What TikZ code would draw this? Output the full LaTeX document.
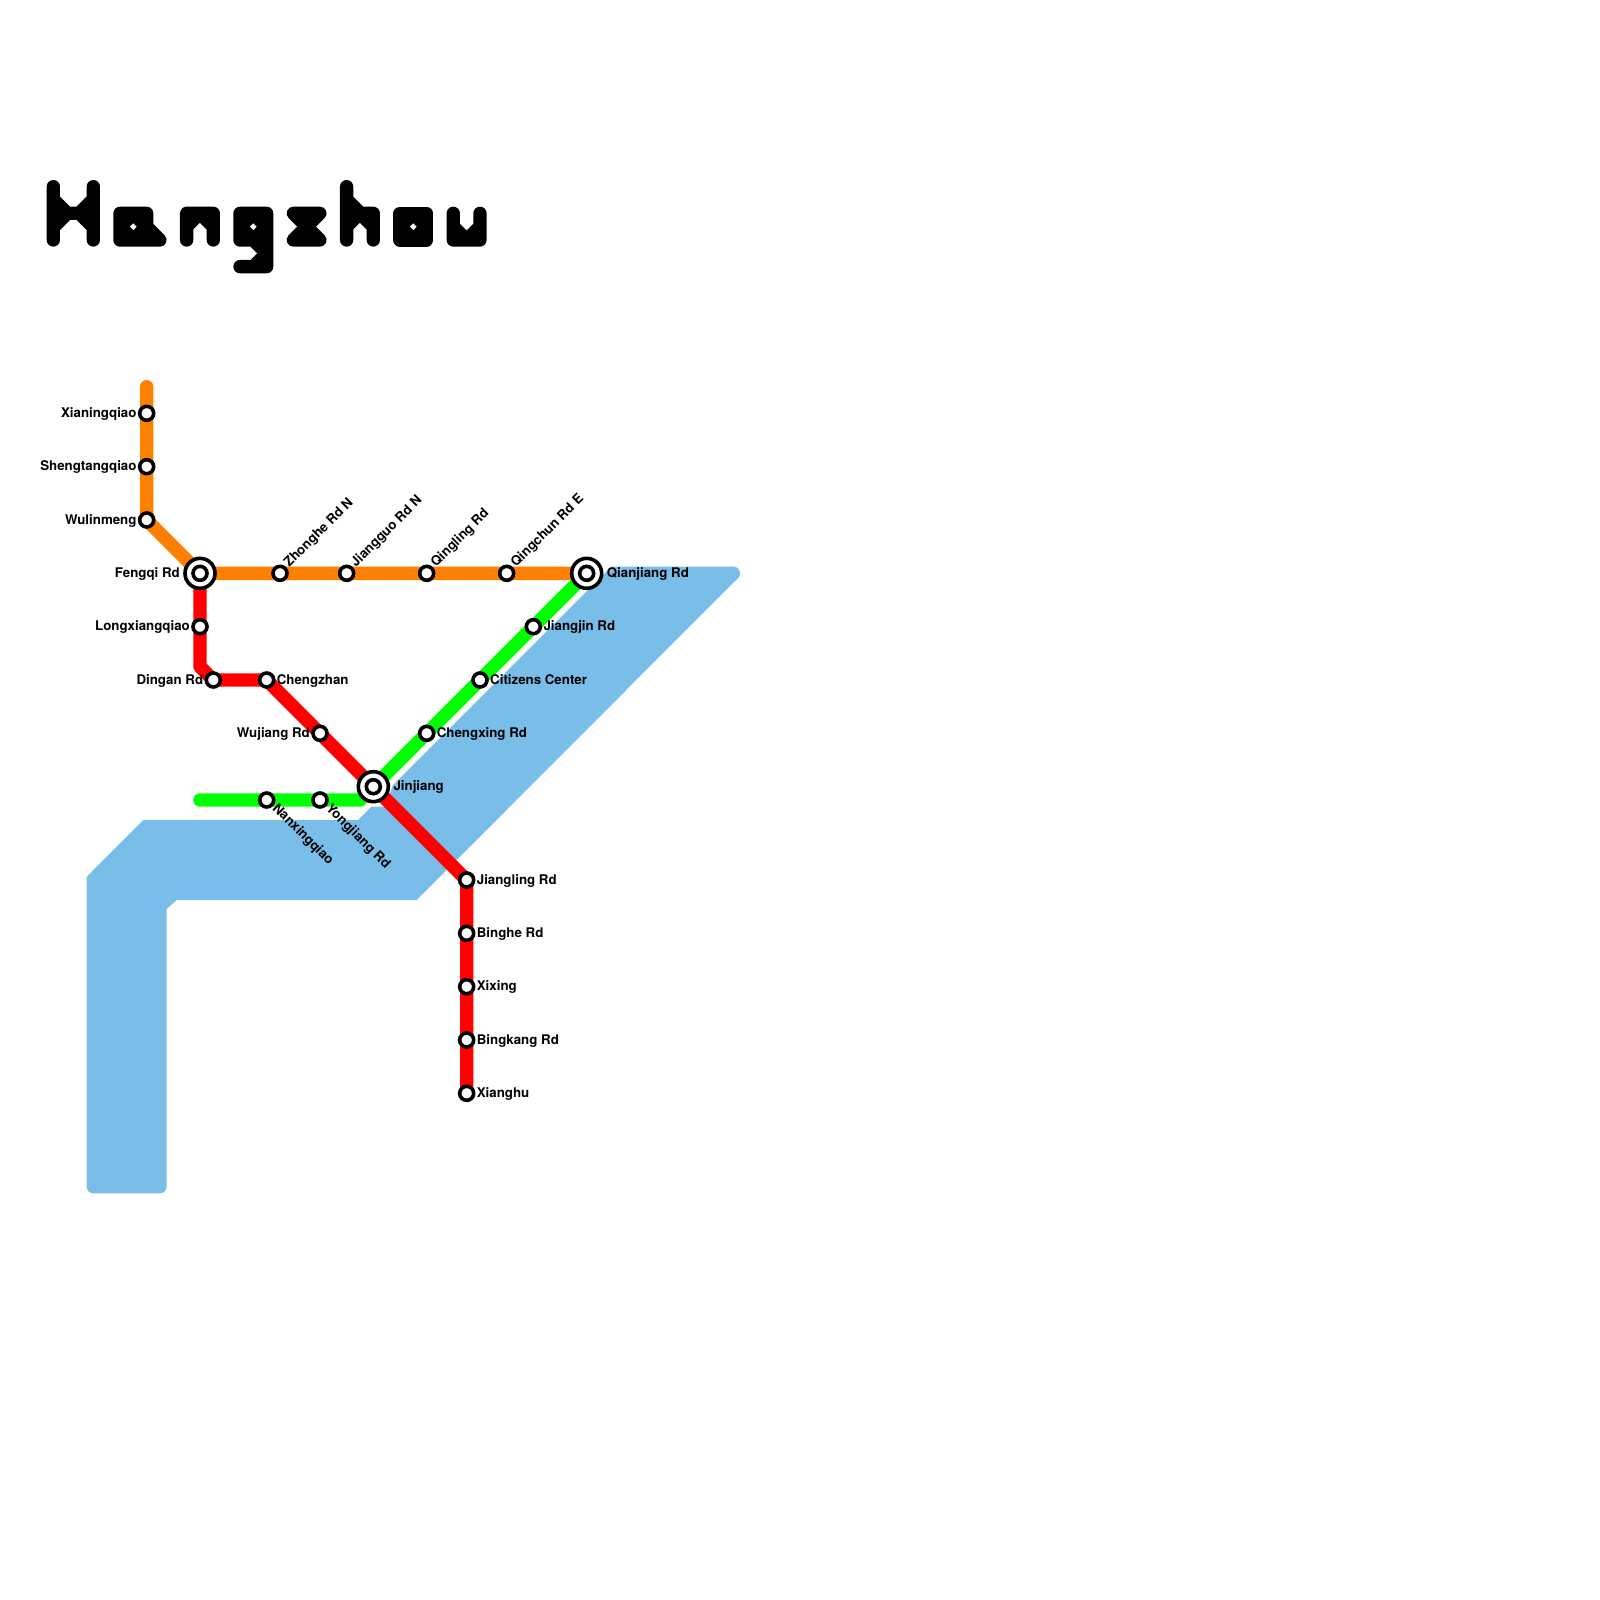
\documentclass[tikz,border=0pt]{standalone}
\usepackage{fontspec}
\setmainfont{TeX Gyre Heros}
\usetikzlibrary{backgrounds}
\definecolor{water}{HTML}{79BDE9}
\definecolor{lineorange}{HTML}{FF8000}
\definecolor{linered}{HTML}{FF0000}
\definecolor{linegreen}{HTML}{00FF00}
\tikzset{
  stn/.style={circle,draw=black,fill=white,line width=3.6pt,minimum size=14pt,inner sep=0pt},
  hub/.style={circle,draw=black,fill=white,line width=3.6pt,minimum size=30pt,inner sep=0pt},
  hubcore/.style={circle,draw=black,fill=white,line width=3.6pt,minimum size=14pt,inner sep=0pt},
  lbl/.style={font=\bfseries\fontsize{13.3}{13.3}\selectfont,inner sep=0pt,text=black,yshift=-1.5pt},
  metro/.style={line width=13.33pt,line cap=round,line join=round},
  glyph/.style={fill=black,draw=black,line width=13.33pt,line cap=round,line join=round},
  glyphhole/.style={fill=white,draw=none},
}
\begin{document}
\begin{tikzpicture}[x=1pt,y=-1pt]
\useasboundingbox (0,0) rectangle (1600,1600);
% stations
\node[stn] (xianing) at (146.67,413.33) {};
\node[stn] (sheng) at (146.67,466.67) {};
\node[stn] (wulin) at (146.67,520) {};
\node[hub] (fengqi) at (200,573.33) {};
\node[hubcore] (fengqic) at (200,573.33) {};
\node[stn] (zhonghe) at (280,573.33) {};
\node[stn] (jiangguo) at (346.67,573.33) {};
\node[stn] (qingling) at (426.67,573.33) {};
\node[stn] (qingchun) at (506.67,573.33) {};
\node[hub] (qianjiang) at (586.67,573.33) {};
\node[hubcore] (qianjiangc) at (586.67,573.33) {};
\node[stn] (longxiang) at (200,626.67) {};
\node[stn] (dingan) at (213.33,680) {};
\node[stn] (chengzhan) at (266.67,680) {};
\node[stn] (wujiang) at (320,733.33) {};
\node[hub] (jinjiang) at (373.33,786.67) {};
\node[hubcore] (jinjiangc) at (373.33,786.67) {};
\node[stn] (jiangling) at (466.67,880) {};
\node[stn] (binghe) at (466.67,933.33) {};
\node[stn] (xixing) at (466.67,986.67) {};
\node[stn] (bingkang) at (466.67,1040) {};
\node[stn] (xianghu) at (466.67,1093.33) {};
\node[stn] (jiangjin) at (533.33,626.67) {};
\node[stn] (citizens) at (480,680) {};
\node[stn] (chengxing) at (426.67,733.33) {};
\node[stn] (nanxing) at (266.67,800) {};
\node[stn] (yongjiang) at (320,800) {};
\coordinate (orangeend) at (146.67,386.67);
\coordinate (greenend) at (200,800);
\coordinate (greenbend) at (360,800);
\coordinate (redbendA) at (200,666.67);
\begin{scope}[on background layer]
  \fill[water] (86.67,1000) [rounded corners=6.67pt] -- (86.67,1193.33) -- (166.67,1193.33) [sharp corners] -- (166.67,909) -- (176.67,900) -- (416.67,900) -- (738,578) -- (733.33,566.67) -- (611.5,566.67) -- (393,785) -- (385,806.67) -- (371.5,806.67) -- (358,820) -- (143.3,820) -- (88,875.5) -- (86.67,878) -- cycle;
  \fill[water] (733.33,573.33) circle[radius=6.67pt];
  \draw[metro,linegreen] (greenend) -- (nanxing.center) -- (yongjiang.center) -- (greenbend) -- (jinjiang.center) -- (chengxing.center) -- (citizens.center) -- (jiangjin.center) -- (qianjiang.center);
  \draw[metro,linered] (fengqi.center) -- (longxiang.center) -- (redbendA) -- (dingan.center) -- (chengzhan.center) -- (wujiang.center) -- (jinjiang.center) -- (jiangling.center) -- (binghe.center) -- (xixing.center) -- (bingkang.center) -- (xianghu.center);
  \draw[metro,lineorange] (orangeend) -- (xianing.center) -- (sheng.center) -- (wulin.center) -- (fengqi.center) -- (zhonghe.center) -- (jiangguo.center) -- (qingling.center) -- (qingchun.center) -- (qianjiang.center);
\end{scope}
% labels
\node[lbl,anchor=mid east] (t1) at ([xshift=-10pt]xianing.center) {Xianingqiao};
\node[lbl,anchor=mid east] (t2) at ([xshift=-10pt]sheng.center) {Shengtangqiao};
\node[lbl,anchor=mid east] (t3) at ([xshift=-10pt]wulin.center) {Wulinmeng};
\node[lbl,anchor=mid east] (t4) at ([xshift=-20pt]fengqi.center) {Fengqi Rd};
\node[lbl,anchor=mid east] (t5) at ([xshift=-10pt]longxiang.center) {Longxiangqiao};
\node[lbl,anchor=mid east] (t6) at ([xshift=-10pt]dingan.center) {Dingan Rd};
\node[lbl,anchor=mid east] (t7) at ([xshift=-10pt]wujiang.center) {Wujiang Rd};
\node[lbl,anchor=mid west] (t8) at ([xshift=10pt]chengzhan.center) {Chengzhan};
\node[lbl,anchor=mid west] (t9) at ([xshift=20pt]jinjiang.center) {Jinjiang};
\node[lbl,anchor=mid west] (t10) at ([xshift=20pt]qianjiang.center) {Qianjiang Rd};
\node[lbl,anchor=mid west] (t11) at ([xshift=10pt]jiangjin.center) {Jiangjin Rd};
\node[lbl,anchor=mid west] (t12) at ([xshift=10pt]citizens.center) {Citizens Center};
\node[lbl,anchor=mid west] (t13) at ([xshift=10pt]chengxing.center) {Chengxing Rd};
\node[lbl,anchor=mid west] (t14) at ([xshift=10pt]jiangling.center) {Jiangling Rd};
\node[lbl,anchor=mid west] (t15) at ([xshift=10pt]binghe.center) {Binghe Rd};
\node[lbl,anchor=mid west] (t16) at ([xshift=10pt]xixing.center) {Xixing};
\node[lbl,anchor=mid west] (t17) at ([xshift=10pt]bingkang.center) {Bingkang Rd};
\node[lbl,anchor=mid west] (t18) at ([xshift=10pt]xianghu.center) {Xianghu};
\node[lbl,anchor=mid west,rotate=45] (t19) at ([xshift=7.5pt,yshift=9pt]zhonghe.center) {Zhonghe Rd N};
\node[lbl,anchor=mid west,rotate=45] (t20) at ([xshift=7.5pt,yshift=9pt]jiangguo.center) {Jiangguo Rd N};
\node[lbl,anchor=mid west,rotate=45] (t21) at ([xshift=7.5pt,yshift=9pt]qingling.center) {Qingling Rd};
\node[lbl,anchor=mid west,rotate=45] (t22) at ([xshift=7.5pt,yshift=9pt]qingchun.center) {Qingchun Rd E};
\node[lbl,anchor=mid west,rotate=-45] (t23) at ([xshift=7pt,yshift=-5.5pt]nanxing.center) {Nanxingqiao};
\node[lbl,anchor=mid west,rotate=-45] (t24) at ([xshift=7pt,yshift=-5.5pt]yongjiang.center) {Yongjiang Rd};
% title glyphs, in 3x crop coordinates
\begin{scope}[x=0.3333pt,y=-0.3333pt,shift={(30pt,-160pt)}]
\path[glyph] (70,80)--(70,118)--(112,160)--(148,160)--(190,118)--(190,80)--(190,240)--(190,202)--(148,160)--(112,160)--(70,202)--(70,240)--cycle;
\path[glyph] (270,160)--(350,160)--(350,200)--(390,240)--(270,240)--cycle;
\path[glyphhole] (300,200)--(310,190)--(320,200)--(310,210)--cycle;
\path[glyph] (470,240)--(470,160)--(550,160)--(550,240)--(550,200)--(510,160)--(470,200)--cycle;
\path[glyph] (630,160)--(710,160)--(710,320)--(630,320)--(670,320)--(710,280)--(670,240)--(630,240)--cycle;
\path[glyphhole] (660,200)--(670,190)--(680,200)--(670,210)--cycle;
\path[glyph] (790,160)--(870,160)--(790,240)--(870,240)--cycle;
\path[glyph] (950,240)--(950,80)--(950,118)--(992,160)--(1030,160)--(1030,240)--(1030,200)--(990,160)--(950,200)--cycle;
\path[glyph] (1110,160)--(1190,160)--(1190,240)--(1110,240)--cycle;
\path[glyphhole] (1140,200)--(1150,190)--(1160,200)--(1150,210)--cycle;
\path[glyph] (1270,160)--(1270,240)--(1350,240)--(1350,160)--(1350,200)--(1310,240)--(1270,200)--cycle;
\end{scope}
\end{tikzpicture}
\end{document}
